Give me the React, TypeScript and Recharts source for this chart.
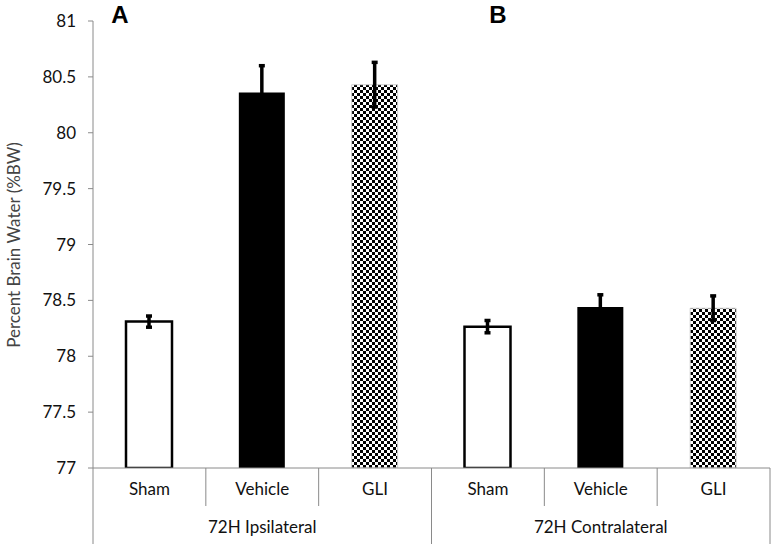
import React from 'react';
import { BarChart, Bar, XAxis, YAxis, Cell, ErrorBar, Label } from 'recharts';

const categories = ['Sham', 'Vehicle', 'GLI', 'Sham', 'Vehicle', 'GLI'];
const groups = ['72H Ipsilateral', '72H Contralateral'];
const values = [78.31, 80.36, 80.43, 78.265, 78.44, 78.43];
const errors = [0.05, 0.24, 0.2, 0.055, 0.11, 0.11];
const yTicks = [77, 77.5, 78, 78.5, 79, 79.5, 80, 80.5, 81];
const panelLabels = ['A', 'B'];

const data = categories.map((c, i) => ({ id: String(i), cat: c, value: values[i], err: errors[i] }));

const W = 771;
const H = 544;
const M = { top: 21, right: 1, bottom: 0, left: 0 };
const YW = 93;
const XH1 = 38;
const XH2 = 38;
const PLOT_BOTTOM = H - XH1 - XH2;
const BAND = (W - M.right - YW) / categories.length;
const AXIS_GRAY = '#8a8a8a';
const FONT = 'Lato, "Open Sans", sans-serif';

const fills = ['#ffffff', '#000000', 'url(#checker)', '#ffffff', '#000000', 'url(#checker)'];
const strokes = ['#000', '#000', '#d0d0d0', '#000', '#000', '#d0d0d0'];
const strokeWidths = [2.5, 0, 1, 2.5, 0, 1];

const CatTick = (props: any) => {
  const { x, payload, index } = props;
  const half = payload && typeof payload.offset === 'number' && payload.offset > 0 ? payload.offset : BAND / 2;
  const i = typeof index === 'number' ? index : Number(payload.value);
  return (
    <g>
      {i !== 0 && i !== 3 && (
        <line x1={x - half} x2={x - half} y1={PLOT_BOTTOM} y2={PLOT_BOTTOM + XH1} stroke={AXIS_GRAY} strokeWidth={1} />
      )}
      <text x={x} y={PLOT_BOTTOM + 27} textAnchor="middle" fontFamily={FONT} fontSize={17} fill="#111">
        {categories[i]}
      </text>
    </g>
  );
};

const GroupTick = (props: any) => {
  const { x, payload, index } = props;
  const half = payload && typeof payload.offset === 'number' && payload.offset > 0 ? payload.offset : BAND / 2;
  const i = typeof index === 'number' ? index : Number(payload.value);
  return (
    <g>
      {(i === 0 || i === 3) && (
        <line x1={x - half} x2={x - half} y1={PLOT_BOTTOM} y2={H} stroke={AXIS_GRAY} strokeWidth={1} />
      )}
      {i === categories.length - 1 && (
        <line x1={x + half} x2={x + half} y1={PLOT_BOTTOM} y2={H} stroke={AXIS_GRAY} strokeWidth={1} />
      )}
      {(i === 1 || i === 4) && (
        <text x={x} y={PLOT_BOTTOM + XH1 + 27} textAnchor="middle" fontFamily={FONT} fontSize={17} fill="#111">
          {groups[i === 1 ? 0 : 1]}
        </text>
      )}
    </g>
  );
};

const Annotations = () => (
  <g>
    <text
      x={13}
      y={245}
      transform="rotate(-90 13 245)"
      textAnchor="middle"
      dominantBaseline="central"
      fontFamily={FONT}
      fontSize={17}
      fill="#444"
    >
      Percent Brain Water (%BW)
    </text>
    <text x={120} y={23} textAnchor="middle" fontFamily='"Liberation Sans", Arial, sans-serif' fontWeight="bold" fontSize={24} fill="#000">
      {panelLabels[0]}
    </text>
    <text x={498} y={23} textAnchor="middle" fontFamily='"Liberation Sans", Arial, sans-serif' fontWeight="bold" fontSize={24} fill="#000">
      {panelLabels[1]}
    </text>
  </g>
);

export default function App() {
  return (
    <div style={{ position: 'absolute', left: 0, top: 0, width: W, height: H, background: '#fff' }}>
      <BarChart width={W} height={H} data={data} margin={M} barCategoryGap={0}>
        <defs>
          <pattern id="checker" width="6" height="6" patternUnits="userSpaceOnUse">
            <rect x="0" y="0" width="6" height="6" fill="#ffffff" />
            <rect x="0" y="0" width="3" height="3" fill="#000000" />
            <rect x="3" y="3" width="3" height="3" fill="#000000" />
          </pattern>
        </defs>
        <YAxis
          domain={[77, 81]}
          ticks={yTicks}
          type="number"
          width={YW}
          allowDataOverflow
          axisLine={{ stroke: AXIS_GRAY }}
          tickLine={{ stroke: AXIS_GRAY }}
          tickSize={5}
          tickMargin={12}
          tick={{ fontFamily: FONT, fontSize: 17, fill: '#111' }}
          tickFormatter={(v: number) => String(v)}
        >
          <Label content={() => <Annotations />} />
        </YAxis>
        <XAxis
          dataKey="id"
          xAxisId={0}
          height={XH1}
          interval={0}
          axisLine={{ stroke: AXIS_GRAY }}
          tickLine={false}
          tick={<CatTick />}
        />
        <XAxis
          dataKey="id"
          xAxisId="grp"
          height={XH2}
          interval={0}
          axisLine={false}
          tickLine={false}
          tick={<GroupTick />}
        />
        <Bar dataKey="value" xAxisId={0} barSize={46} isAnimationActive={false}>
          {data.map((d, i) => (
            <Cell key={d.id} fill={fills[i]} stroke={strokes[i]} strokeWidth={strokeWidths[i]} />
          ))}
          <ErrorBar dataKey="err" width={3} strokeWidth={3.5} stroke="#000" direction="y" isAnimationActive={false} />
        </Bar>
      </BarChart>
    </div>
  );
}
